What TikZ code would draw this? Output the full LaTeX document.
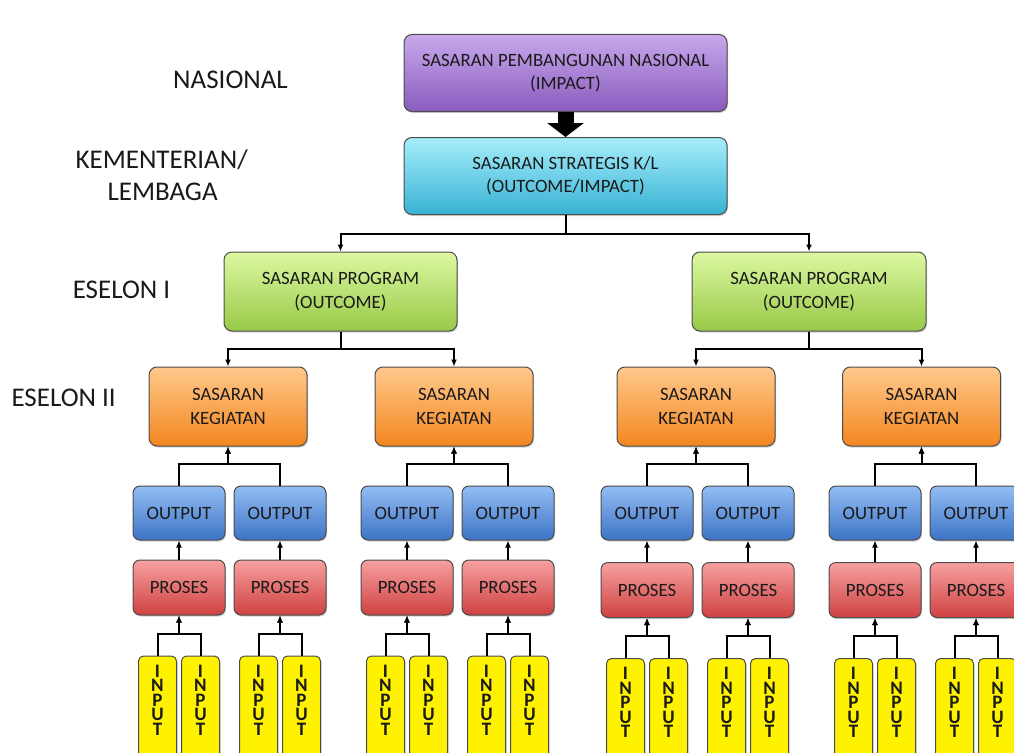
\documentclass[tikz,border=0pt]{standalone}
\usepackage{fontspec}
\setmainfont{Carlito}
\usetikzlibrary{arrows.meta,shadows}
\definecolor{txt}{HTML}{1A1A1A}
\tikzset{
  box/.style={rounded corners=8pt, draw=black!70, line width=1pt, align=center,
    inner sep=0pt, text=txt, drop shadow={shadow xshift=1pt, shadow yshift=-1.5pt, opacity=0.35}},
  boxfont/.style={font=\fontsize{18.8}{23.5}\selectfont},
  imp/.style={box, boxfont, minimum width=323pt, minimum height=77pt, top color=purpleT, bottom color=purpleB},
  klbox/.style={box, boxfont, minimum width=323pt, minimum height=77pt, top color=cyanT, bottom color=cyanB},
  prog/.style={box, boxfont, minimum width=233pt, minimum height=79pt, top color=greenT, bottom color=greenB},
  keg/.style={box, boxfont, minimum width=158pt, minimum height=79pt, top color=orangeT, bottom color=orangeB},
  outb/.style={box, boxfont, rounded corners=7pt, minimum width=92pt, minimum height=54pt, top color=blueT, bottom color=blueB},
  prob/.style={box, boxfont, rounded corners=7pt, minimum width=92pt, minimum height=55pt, top color=redT, bottom color=redB},
  inb/.style={box, rounded corners=5pt, fill=yellow, minimum width=38pt, minimum height=104pt,
    font=\bfseries\fontsize{19}{14.5}\selectfont, anchor=north, text depth=16pt},
  lab/.style={font=\fontsize{27}{32}\selectfont, text=txt},
  conn/.style={line width=2pt, draw=black},
  down/.style={conn, -{Latex[length=7pt,width=6pt]}},
  up/.style={conn, {Latex[length=7pt,width=6pt]}-},
}
\definecolor{purpleT}{HTML}{C8A8EC}
\definecolor{purpleB}{HTML}{8A5CBE}
\definecolor{cyanT}{HTML}{A6EEFB}
\definecolor{cyanB}{HTML}{38B2D4}
\definecolor{greenT}{HTML}{DDF8A2}
\definecolor{greenB}{HTML}{98C947}
\definecolor{orangeT}{HTML}{FFC98C}
\definecolor{orangeB}{HTML}{F3861F}
\definecolor{blueT}{HTML}{93BDF3}
\definecolor{blueB}{HTML}{3D74C6}
\definecolor{redT}{HTML}{F7A0A0}
\definecolor{redB}{HTML}{CF4141}
\begin{document}
\begin{tikzpicture}[x=1pt,y=-1pt]
\useasboundingbox (0,0) rectangle (1014,752);
\clip (0,0) rectangle (1014,752);
% left labels
\node[lab] (lnas) at (230.5,80) {NASIONAL};
\node[lab, anchor=west] (lkl1) at (72,160) {KEMENTERIAN/};
\node[lab, anchor=west] (lkl2) at (104,192) {LEMBAGA};
\node[lab] (le1) at (121.5,290) {ESELON I};
\node[lab, anchor=west] (le2) at (8,398) {ESELON II};
% top
\node[imp] (impact) at (565.5,73) {SASARAN PEMBANGUNAN NASIONAL\\(IMPACT)};
\node[klbox] (kl) at (565.5,176) {SASARAN STRATEGIS K/L\\(OUTCOME/IMPACT)};
\draw[line width=16pt, -{Triangle[width=36pt,length=14pt]}] (impact.south) -- (kl.north);
% program
\node[prog] (pl) at (340.5,291.5) {SASARAN PROGRAM\\(OUTCOME)};
\node[prog, minimum width=234pt] (pr) at (809,291.5) {SASARAN PROGRAM\\(OUTCOME)};
\draw[down] (kl.south) -- ++(0,19) -| (pl.north);
\draw[down] (kl.south) -- ++(0,19) -| (pr.north);
% kegiatan
\foreach \n/\x in {k1/228,k2/454,k3/696,k4/921.5}{
  \node[keg] (\n) at (\x,406.5) {SASARAN\\KEGIATAN};
}
\draw[down] (pl.south) -- ++(0,17) -| (k1.north);
\draw[down] (pl.south) -- ++(0,17) -| (k2.north);
\draw[down] (pr.south) -- ++(0,17) -| (k3.north);
\draw[down] (pr.south) -- ++(0,17) -| (k4.north);
% outputs, proses, inputs
\foreach \k/\i/\x/\py in {k1/a/179/587.5, k1/b/280/587.5, k2/c/407/587.5, k2/d/508/587.5,
                         k3/e/647/590, k3/f/748/590, k4/g/875/590, k4/h/976/590}{
  \node[outb] (o\i) at (\x,513) {OUTPUT};
  \node[prob] (p\i) at (\x,\py) {PROSES};
  \draw[up] (\k.south) -- ++(0,17) -| (o\i.north);
  \draw[up] (o\i.south) -- (p\i.north);
  \node[inb] (i\i1) at ([xshift=-21.5pt, yshift=-40pt]p\i.south) {I\\N\\P\\U\\T};
  \node[inb] (i\i2) at ([xshift=21.5pt, yshift=-40pt]p\i.south) {I\\N\\P\\U\\T};
  \draw[up] (p\i.south) -- ++(0,18) -| (i\i1.north);
  \draw[up] (p\i.south) -- ++(0,18) -| (i\i2.north);
}
\end{tikzpicture}
\end{document}
